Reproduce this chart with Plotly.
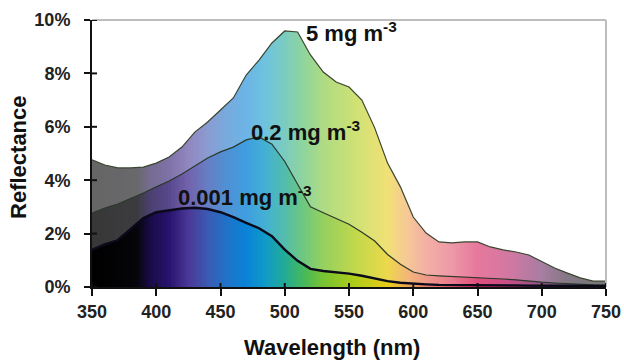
import numpy as np
import plotly.graph_objects as go

# ---- data ----
wavelength = [350, 360, 370, 380, 390, 400, 410, 420, 430, 440, 450, 460, 470, 480, 490,
              500, 510, 520, 530, 540, 550, 560, 570, 580, 590, 600, 610, 620, 630, 640,
              650, 660, 670, 680, 690, 700, 710, 720, 730, 740, 750]
refl_5 = [4.76, 4.57, 4.46, 4.46, 4.49, 4.64, 4.87, 5.24, 5.80, 6.18, 6.63, 7.08, 7.94, 8.50, 9.14,
          9.59, 9.55, 8.69, 8.05, 7.68, 7.49, 7.00, 5.96, 4.64, 3.75, 2.62, 2.02, 1.69, 1.65, 1.69,
          1.69, 1.50, 1.39, 1.31, 1.20, 0.94, 0.71, 0.52, 0.34, 0.22, 0.22]
refl_02 = [2.77, 2.96, 3.11, 3.30, 3.52, 3.75, 3.97, 4.23, 4.53, 4.83, 5.06, 5.24, 5.51, 5.62, 5.35,
           4.70, 3.85, 3.00, 2.78, 2.57, 2.35, 2.05, 1.72, 1.22, 0.85, 0.56, 0.45, 0.42, 0.40, 0.38,
           0.36, 0.33, 0.30, 0.27, 0.22, 0.18, 0.15, 0.12, 0.10, 0.08, 0.07]
refl_0001 = [1.39, 1.60, 1.75, 2.15, 2.58, 2.80, 2.88, 2.94, 2.97, 2.92, 2.80, 2.62, 2.40, 2.20, 1.90,
             1.40, 0.98, 0.68, 0.60, 0.55, 0.50, 0.42, 0.33, 0.22, 0.16, 0.12, 0.10, 0.08, 0.08, 0.07,
             0.07, 0.06, 0.06, 0.06, 0.05, 0.05, 0.05, 0.04, 0.04, 0.04, 0.04]
labels = ["5 mg m<sup>-3</sup>", "0.2 mg m<sup>-3</sup>", "0.001 mg m<sup>-3</sup>"]
label_x = [515, 472, 415]
label_y = [9.55, 5.86, 3.4]
x_ticks = [350, 400, 450, 500, 550, 600, 650, 700, 750]
y_ticks = [0, 2, 4, 6, 8, 10]
y_ticktext = ["%d%%" % v for v in y_ticks]
x_title = "Wavelength (nm)"
y_title = "Reflectance"

# ---- style: spectral colour stops (wavelength, rgb) ----
spectrum = [
    (350, (0, 0, 0)), (385, (5, 5, 10)), (395, (25, 10, 70)), (410, (40, 20, 110)),
    (425, (75, 55, 150)), (440, (60, 90, 180)), (455, (30, 115, 200)), (470, (10, 130, 215)),
    (485, (15, 155, 200)), (500, (35, 170, 150)), (515, (70, 185, 90)), (530, (120, 195, 50)),
    (555, (175, 205, 25)), (580, (232, 205, 25)), (595, (240, 165, 80)), (610, (235, 125, 105)),
    (630, (225, 85, 110)), (650, (215, 30, 90)), (675, (180, 30, 100)), (700, (110, 40, 100)),
    (720, (50, 30, 50)), (750, (30, 30, 30)),
]
colorscale = [[(w - 350) / 400, "rgb(%d,%d,%d)" % c] for w, c in spectrum]

FONT = "Liberation Sans, Arial, sans-serif"

fig = go.Figure()

# spectral background
grid = np.arange(350, 751, 1)
fig.add_trace(go.Heatmap(x=grid, y=[0, 10], z=[grid, grid], colorscale=colorscale,
                         zmin=350, zmax=750, showscale=False, hoverinfo="skip"))

# mask / layer tints
fig.add_trace(go.Scatter(x=[350, 750], y=[10, 10], mode="lines", line=dict(width=0),
                         hoverinfo="skip", showlegend=False))
fig.add_trace(go.Scatter(x=wavelength, y=refl_5, mode="lines", line=dict(width=0),
                         fill="tonexty", fillcolor="white", hoverinfo="skip", showlegend=False))
fig.add_trace(go.Scatter(x=wavelength, y=refl_02, mode="lines", line=dict(width=0),
                         fill="tonexty", fillcolor="rgba(255,255,255,0.40)", hoverinfo="skip",
                         showlegend=False))
fig.add_trace(go.Scatter(x=wavelength, y=refl_0001, mode="lines", line=dict(width=0),
                         fill="tonexty", fillcolor="rgba(255,255,255,0.22)", hoverinfo="skip",
                         showlegend=False))

# curves
fig.add_trace(go.Scatter(x=wavelength, y=refl_5, mode="lines",
                         line=dict(color="#3b4630", width=1.2), showlegend=False))
fig.add_trace(go.Scatter(x=wavelength, y=refl_02, mode="lines",
                         line=dict(color="#2c3a2c", width=1.2), showlegend=False))
fig.add_trace(go.Scatter(x=wavelength, y=refl_0001, mode="lines",
                         line=dict(color="#0a0a1a", width=2.4), showlegend=False))

for t, x, y in zip(labels, label_x, label_y):
    fig.add_annotation(x=x, y=y, text=t, showarrow=False, xanchor="left", yanchor="middle",
                       font=dict(family=FONT, size=22, color="#111", weight="bold"))

# axis titles
fig.add_annotation(x=0.467, y=-0.225, xref="paper", yref="paper", text=x_title, showarrow=False,
                   xanchor="center", yanchor="middle",
                   font=dict(family=FONT, size=22, color="#111", weight="bold"))
fig.add_annotation(x=-0.142, y=0.487, xref="paper", yref="paper", text=y_title, showarrow=False,
                   textangle=-90, xanchor="center", yanchor="middle",
                   font=dict(family=FONT, size=22, color="#111", weight="bold"))

# plot-area border (top and right, grey)
fig.add_shape(type="line", xref="paper", yref="paper", x0=0, x1=1, y0=1, y1=1,
              line=dict(color="#bdbdbd", width=2), layer="above")
fig.add_shape(type="line", xref="paper", yref="paper", x0=1, x1=1, y0=0, y1=1,
              line=dict(color="#bdbdbd", width=2), layer="above")

# inner halves of the crossing tick marks
for v in y_ticks:
    fig.add_shape(type="line", xref="paper", yref="y", x0=0, x1=5 / 514, y0=v, y1=v,
                  line=dict(color="#111", width=2), layer="above")
for v in x_ticks:
    fig.add_shape(type="line", xref="x", yref="paper", x0=v, x1=v, y0=0, y1=4 / 267,
                  line=dict(color="#111", width=2), layer="above")

fig.update_layout(
    width=624, height=360,
    margin=dict(l=92, r=18, t=20, b=73, autoexpand=False),
    paper_bgcolor="white", plot_bgcolor="white",
    font=dict(family=FONT, color="#222"),
    xaxis=dict(range=[350, 750], tickmode="array", tickvals=x_ticks, automargin=False,
               ticktext=[str(v) for v in x_ticks], ticks="outside", ticklen=7, tickwidth=2,
               tickcolor="#111", showline=True, linecolor="#111", linewidth=2,
               showgrid=False, zeroline=False,
               tickfont=dict(family=FONT, size=18, color="#222", weight="bold")),
    yaxis=dict(range=[0, 10], tickmode="array", tickvals=y_ticks, ticktext=y_ticktext,
               ticks="outside", ticklen=6, ticklabelstandoff=10, automargin=False,
               tickwidth=2, tickcolor="#111", showline=True, linecolor="#111", linewidth=2,
               showgrid=False, zeroline=False,
               tickfont=dict(family=FONT, size=18, color="#222", weight="bold")),
)

# remove the default page margin so the 624x360 figure fills the window exactly
fig.write_html("out.html", config={"displayModeBar": False},
               post_script="document.body.style.margin='0';document.body.style.overflow='hidden';")
